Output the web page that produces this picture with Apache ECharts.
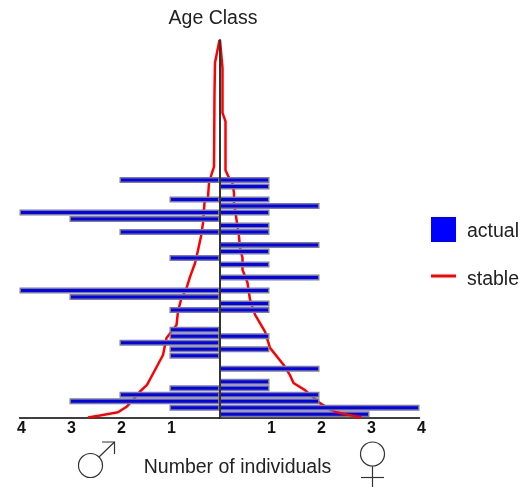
<!DOCTYPE html>
<html><head><meta charset="utf-8">
<style>html,body{margin:0;padding:0;background:#fff}#c{width:532px;height:487px}</style>
<script src="https://cdn.jsdelivr.net/npm/echarts@6/dist/echarts.min.js"></script>
</head><body><div id="c"></div>
<script>
const rowCount = 58;
const actualMale =   [0,1,3,2,1,0,0,0,0,1,1,2,1,1,0,0,1,0,3,4,0,0,0,0,1,0,0,0,2,0,3,4,0,1,0,0,2];
const actualFemale = [3,4,2,2,1,1,0,2,0,0,1,0,1,0,0,0,1,1,0,1,0,2,0,1,0,1,2,0,1,1,0,1,2,1,0,1,1];
const stableMaleX =   [2.63,2.39,2.03,1.85,1.73,1.59,1.45,1.29,1.13,1.06,0.86,0.83,0.77,0.65,0.59,0.49,0.43,0.37,0.33,0.30,0.23,0.21,0.15,0.11,0.10,0.09,0.06,0];
const stableMaleAge = [-0.5,-0.2,0.3,1.2,2.2,3.5,4.5,6.8,9.1,11.7,13.7,15.8,17.6,19.6,21.1,23.2,25.2,27.3,29.4,32.5,33.4,35.5,37.1,38,49.4,54,54.2,57.5];
const stableFemaleX =   [2.84,2.58,2.28,2.01,1.71,1.48,1.41,1.28,1.01,0.91,0.71,0.61,0.56,0.46,0.46,0.41,0.39,0.34,0.29,0.29,0.26,0.18,0.12,0.12,0.06,0.06,0.01];
const stableFemaleAge = [-0.5,-0.1,0.4,1.7,3.7,4.8,6,7.6,10.2,12.7,15.3,17.6,20.2,22.2,24,25.6,27.3,29.9,32.5,34,35.5,36.5,37.5,45,46.3,53.2,57.5];
const tickLabels = {1:'1',2:'2',3:'3',4:'4'};
const font = '"Liberation Sans", Arial, sans-serif';
const ink = '#222';

const pairs = (xs, ys) => xs.map((x, i) => [x, ys[i]]);
const barData = a => a.map(v => v === 0 ? null : v);
const ages = Array.from({length: rowCount}, (_, i) => String(i));

const xAxisBase = {
  type: 'value', min: 0, max: 4, interval: 1, splitLine: {show: false},
  axisTick: {show: false},
  axisLine: {show: true, onZero: false, lineStyle: {color: '#000', width: 1.5}},
  axisLabel: {show: true, showMinLabel: true, showMaxLabel: true, margin: 3, hideOverlap: false,
    padding: [0, 0, 0, 4],
    fontFamily: font, fontWeight: 'bold', fontSize: 16, color: '#111',
    formatter: v => tickLabels[v] || ''}
};
const catAxis = (i, showLine) => ({
  type: 'category', gridIndex: i, data: ages, z: 5,
  axisTick: {show: false}, axisLabel: {show: false}, splitLine: {show: false},
  axisLine: {show: showLine, onZero: false, lineStyle: {color: '#333', width: 2}}
});
const valAxis = i => ({type: 'value', gridIndex: i, min: -0.5, max: 57.5, show: false});
const bar = (xi, yi, data) => ({
  name: 'actual', type: 'bar', xAxisIndex: xi, yAxisIndex: yi, data: barData(data), z: 3,
  barWidth: 6, barGap: '0%', itemStyle: {color: '#0000ff', borderColor: '#808080', borderWidth: 1.5},
  animation: false
});
const line = (xi, yi, xs, ys, z) => ({
  name: 'stable', type: 'line', xAxisIndex: xi, yAxisIndex: yi, data: pairs(xs, ys), z: z,
  showSymbol: false, symbol: 'none', lineStyle: {color: '#ff0000', width: 2.5}, itemStyle: {color: '#ff0000'},
  animation: false
});
const legendText = shift => ({
  fontFamily: font, fontSize: 19.5, color: ink, padding: [0, 0, 0, 6],
  rich: {t: {fontFamily: font, fontSize: 19.5, color: ink, padding: [shift, 0, 0, 0]}}
});

const chart = echarts.init(document.getElementById('c'), null, {renderer: 'canvas'});
chart.setOption({
  animation: false,
  backgroundColor: '#fff',
  title: [
    {text: 'Age Class', left: 208, top: 4, textAlign: 'center',
     textStyle: {fontFamily: font, fontSize: 19.5, fontWeight: 'normal', color: ink}},
    {text: 'Number of individuals', left: 232.5, top: 453, textAlign: 'center',
     textStyle: {fontFamily: font, fontSize: 19.5, fontWeight: 'normal', color: ink}}
  ],
  grid: [
    {left: 19.5, top: 40, width: 200, height: 377.5},
    {left: 219.5, top: 40, width: 200, height: 377.5}
  ],
  xAxis: [
    Object.assign({gridIndex: 0, inverse: true}, xAxisBase),
    Object.assign({gridIndex: 1}, xAxisBase)
  ],
  yAxis: [catAxis(0, false), catAxis(1, true), valAxis(0), valAxis(1)],
  legend: [
    {data: ['actual'], left: 431, top: 217, padding: 0, itemWidth: 25, itemHeight: 25, icon: 'rect',
     itemStyle: {borderWidth: 0, color: '#0000ff'}, formatter: n => '{t|' + n + '}',
     textStyle: legendText(4), selectedMode: false},
    {data: ['stable'], left: 431, top: 270, padding: 0, itemWidth: 25, itemHeight: 3, icon: 'rect',
     itemStyle: {borderWidth: 0, color: '#ff0000'}, formatter: n => '{t|' + n + '}',
     textStyle: legendText(8), selectedMode: false}
  ],
  series: [
    line(0, 2, stableMaleX, stableMaleAge, 2),
    line(1, 3, stableFemaleX, stableFemaleAge, 2),
    line(1, 3, stableFemaleX.slice(0, 3), stableFemaleAge.slice(0, 3), 4),
    bar(0, 0, actualMale),
    bar(1, 1, actualFemale)
  ],
  graphic: [
    {type: 'circle', shape: {cx: 90.5, cy: 465.5, r: 12}, style: {fill: 'none', stroke: '#333', lineWidth: 1.2}},
    {type: 'polyline', shape: {points: [[99, 457], [114.5, 442]]}, style: {fill: 'none', stroke: '#333', lineWidth: 1.2}},
    {type: 'polyline', shape: {points: [[102, 442], [114.5, 442], [114.5, 454]]}, style: {fill: 'none', stroke: '#333', lineWidth: 1.2}},
    {type: 'circle', shape: {cx: 372.5, cy: 454, r: 12}, style: {fill: 'none', stroke: '#333', lineWidth: 1.2}},
    {type: 'line', shape: {x1: 372.5, y1: 466, x2: 372.5, y2: 487}, style: {stroke: '#333', lineWidth: 1.2}},
    {type: 'line', shape: {x1: 361, y1: 477.5, x2: 384, y2: 477.5}, style: {stroke: '#333', lineWidth: 1.2}}
  ]
});
</script></body></html>
